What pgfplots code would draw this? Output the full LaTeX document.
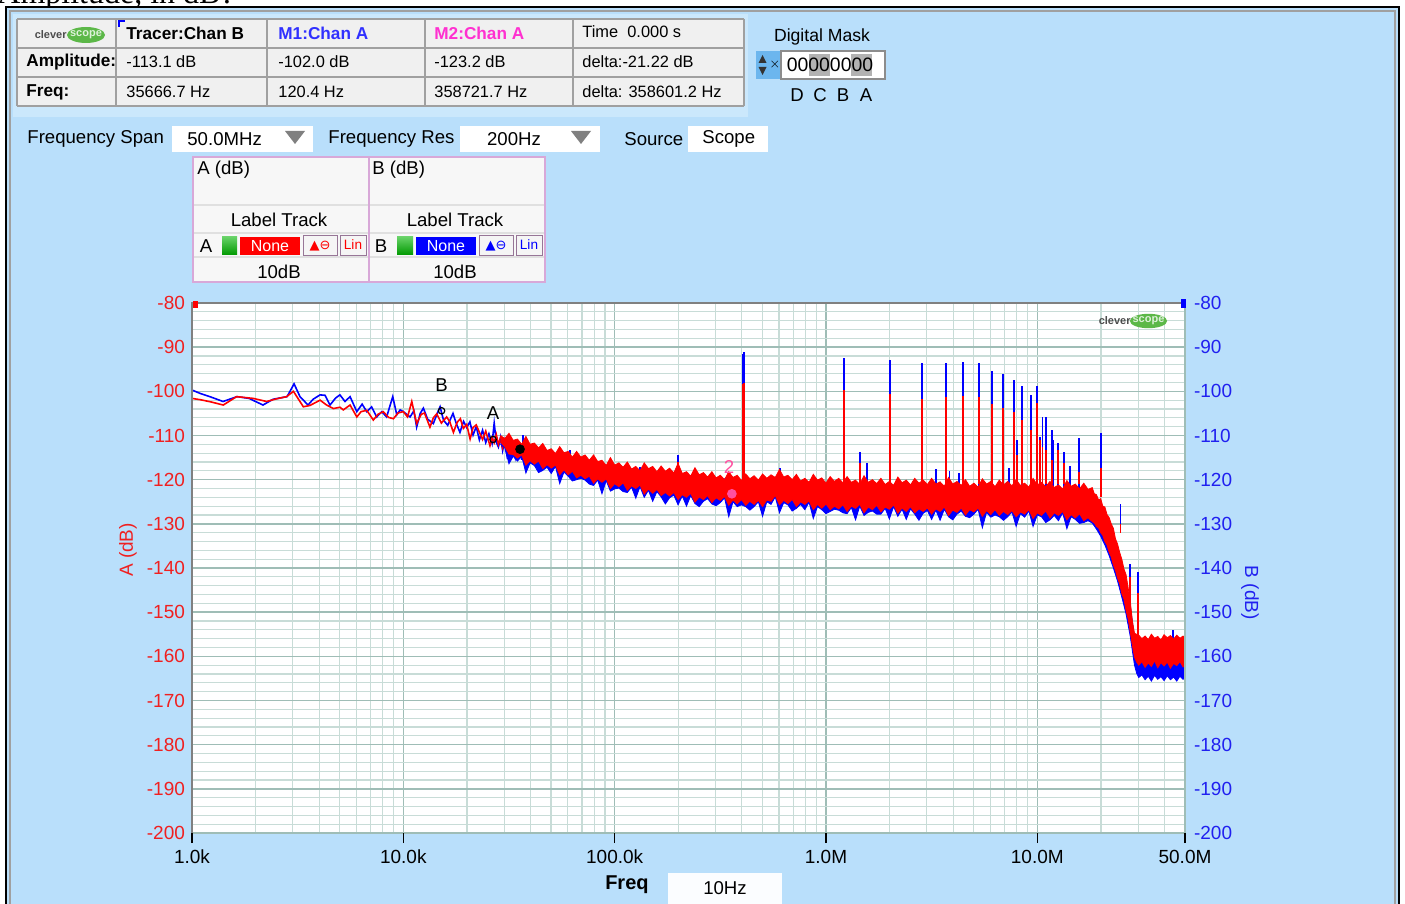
\documentclass[border=0pt]{standalone}
\usepackage{fontspec}
\setmainfont{Liberation Sans}
\newfontfamily\symf{DejaVu Sans}
\newfontfamily\serf{Liberation Serif}
\usepackage{pgfplots}
\pgfplotsset{compat=1.18}
\definecolor{bgblue}{HTML}{B9DFFB}
\definecolor{panelblue}{HTML}{CBE8FC}
\definecolor{cellgray}{HTML}{F0F0F0}
\definecolor{linegray}{HTML}{A0A0A0}
\definecolor{gridmajor}{HTML}{9FBDB6}
\definecolor{gridminor}{HTML}{C8DCD7}
\definecolor{pinkborder}{HTML}{D8A8D8}
\definecolor{axisred}{HTML}{F02020}
\definecolor{axisblue}{HTML}{2020F0}
\definecolor{mOne}{HTML}{3030FF}
\definecolor{mTwo}{HTML}{FF30D0}
\definecolor{mpink}{HTML}{FF4FA0}
\definecolor{logogreen}{HTML}{5CB848}
\definecolor{spinblue}{HTML}{6CB6EE}
\newcommand{\fs}[1]{\fontsize{#1}{#1}\selectfont}
\begin{document}
\begin{tikzpicture}
\useasboundingbox (0,0) rectangle (702.5pt,-452pt);
\begin{scope}[x=0.5pt,y=-0.5pt]
% background and frame
\fill[white] (0,0) rectangle (1405,904);
\begin{scope}
\clip (0,0) rectangle (1405,7);
\node[anchor=base west, inner sep=0pt, font=\serf\fs{16}] at (-3,4) {Amplitude, in dB?};
\end{scope}
\fill[bgblue] (6,7) rectangle (1399,904);
\draw[black, line width=1pt] (6,920) -- (6,7.5) -- (1398.5,7.5) -- (1398.5,920);
\draw[linegray, line width=1pt] (9.5,920) -- (9.5,11) -- (1395,11) -- (1395,920);
% header table panel
\fill[panelblue] (13,14) rectangle (748,117);
\fill[cellgray] (17,19) rectangle (744,106);
\foreach \yy in {19,48,77,106} {\draw[linegray, line width=1pt] (17,\yy) -- (744,\yy);}
\foreach \xx in {17,116,267,425,573,744} {\draw[linegray, line width=1pt] (\xx,19) -- (\xx,106);}
\draw[blue, line width=0.7pt] (119,27) -- (119,21) -- (125,21);
% table logo
\node[anchor=east, inner sep=0pt, font=\bfseries\fs{5.5}, text=black!70] at (67,35) {clever};
\fill[logogreen] (86,35) ellipse (9.5pt and 4pt);
\node[inner sep=0pt, font=\bfseries\fs{5.5}, text=white!80!logogreen] at (86,35) {scope};
% table text
\begin{scope}[every node/.style={anchor=west, inner sep=0pt, font=\fs{8.2}}]
\node[font=\bfseries\fs{8.6}] at (126,33) {Tracer:Chan B};
\node[font=\bfseries\fs{8.6}, text=mOne] at (278,33) {M1:Chan A};
\node[font=\bfseries\fs{8.6}, text=mTwo] at (434,33) {M2:Chan A};
\node at (582,32) {Time\ \ 0.000 s};
\node[font=\bfseries\fs{8.6}] at (26,62) {Amplitude:};
\node at (126,62) {-113.1 dB};
\node at (278,62) {-102.0 dB};
\node at (434,62) {-123.2 dB};
\node at (582,62) {delta:-21.22 dB};
\node[font=\bfseries\fs{8.6}] at (26,92) {Freq:};
\node at (126,92) {35666.7 Hz};
\node at (278,92) {120.4 Hz};
\node at (434,92) {358721.7 Hz};
\node at (582,92) {delta: 358601.2 Hz};
\end{scope}
% digital mask
\node[inner sep=0pt, font=\fs{8.8}] at (822,37) {Digital Mask};
\fill[spinblue] (756,51) rectangle (769,79);
\fill[black!80] (758.5,63) -- (766.5,63) -- (762.5,55) -- cycle;
\fill[black!80] (758.5,67) -- (766.5,67) -- (762.5,75) -- cycle;
\fill[spinblue] (769,51) rectangle (781,79);
\node[inner sep=0pt, font=\fs{6}] at (775,65) {$\times$};
\fill[white] (781,51) rectangle (885,79);
\draw[black!45, line width=0.6pt] (781,51) rectangle (885,79);
\fill[black!30] (809,54) rectangle (830,76);
\fill[black!30] (851,54) rectangle (872,76);
\node[inner sep=0pt, font=\fs{9.7}] at (830,65) {00000000};
\foreach \xx/\tt in {797/D,820/C,843/B,866/A} {\node[inner sep=0pt, font=\fs{9.3}] at (\xx,95) {\tt};}
% controls row
\begin{scope}[every node/.style={inner sep=0pt, font=\fs{9.3}}]
\node[anchor=west] at (27,139) {Frequency Span};
\fill[white] (172,126) rectangle (313,152);
\node[anchor=west] at (187,139) {50.0MHz};
\fill[black!50] (285,131) -- (305,131) -- (295,144) -- cycle;
\node[anchor=west] at (328,139) {Frequency Res};
\fill[white] (460,126) rectangle (600,152);
\node at (514,139) {200Hz};
\fill[black!50] (571,131) -- (591,131) -- (581,144) -- cycle;
\node[anchor=west] at (624,139) {Source};
\fill[white] (688,126) rectangle (768,152);
\node[anchor=west] at (702,139) {Scope};
\end{scope}
% label track panel
\fill[white!97!black] (193,157) rectangle (545,282);
\draw[black!12, line width=0.6pt] (193,205) -- (545,205);
\draw[black!12, line width=0.6pt] (193,233) -- (545,233);
\draw[black!12, line width=0.6pt] (193,257) -- (545,257);
\draw[pinkborder, line width=0.8pt] (193,157) rectangle (545,282);
\draw[pinkborder, line width=0.8pt] (369,157) -- (369,282);
\begin{scope}[every node/.style={inner sep=0pt, font=\fs{9.3}}]
\node[anchor=west] at (197,170) {A (dB)};
\node[anchor=west] at (372,170) {B (dB)};
\node at (279,220) {Label Track};
\node at (455,220) {Label Track};
\node at (279,272) {10dB};
\node at (455,272) {10dB};
\node at (206,246) {A};
\node at (381,246) {B};
\end{scope}
\shade[top color=green!70!black!60, bottom color=green!60!black] (222,237) rectangle (237,255);
\shade[top color=green!70!black!60, bottom color=green!60!black] (397,237) rectangle (413,255);
\fill[red] (240,237) rectangle (300,255);
\node[inner sep=0pt, font=\fs{8}, text=white] at (270,246) {None};
\fill[blue] (416,237) rectangle (476,255);
\node[inner sep=0pt, font=\fs{8}, text=white] at (446,246) {None};
\foreach \xa/\xb in {303/337,340/366,479/513,516/542} {\fill[white!96!black] (\xa,236) rectangle (\xb,256); \draw[pinkborder!70!black, line width=0.5pt] (\xa,236) rectangle (\xb,256);}
\node[inner sep=0pt, font=\symf\fs{6.5}, text=red] at (320,246) {▲⊖};
\node[inner sep=0pt, font=\fs{6.8}, text=red] at (353,245) {Lin};
\node[inner sep=0pt, font=\symf\fs{6.5}, text=blue] at (496,246) {▲⊖};
\node[inner sep=0pt, font=\fs{6.8}, text=blue] at (529,245) {Lin};
% freq box under axis
\fill[white!94!bgblue] (668,873) rectangle (782,910);
\node[inner sep=0pt, font=\fs{9.3}] at (725,888) {10Hz};
\end{scope}

\begin{axis}[
  at={(96pt,-416.5pt)}, anchor=south west,
  scale only axis, width=496.5pt, height=265pt,
  xmin=3, xmax=7.69897, ymin=-200, ymax=-80,
  axis background/.style={fill=white},
  axis line style={draw=none},
  xtick={3,4,5,6,7,7.69897},
  xticklabels={1.0k,10.0k,100.0k,1.0M,10.0M,50.0M},
  minor xtick={3.30103,3.47712,3.60206,3.69897,3.77815,3.84510,3.90309,3.95424,
    4.30103,4.47712,4.60206,4.69897,4.77815,4.84510,4.90309,4.95424,
    5.30103,5.47712,5.60206,5.69897,5.77815,5.84510,5.90309,5.95424,
    6.30103,6.47712,6.60206,6.69897,6.77815,6.84510,6.90309,6.95424,
    7.30103,7.47712,7.60206},
  ytick={-200,-190,-180,-170,-160,-150,-140,-130,-120,-110,-100,-90,-80},
  yticklabels={-200,-190,-180,-170,-160,-150,-140,-130,-120,-110,-100,-90,-80},
  minor y tick num=4,
  grid=both,
  major grid style={draw=gridmajor, line width=0.7pt},
  minor grid style={draw=gridminor, line width=0.6pt},
  tick align=outside, xtick pos=left,
  ytick style={draw=none},
  xtick style={draw=black, line width=0.6pt},
  major tick length=5pt, minor tick length=0pt,
  xticklabel style={font=\fs{9.5}},
  yticklabel style={font=\fs{9.5}, text=axisred, xshift=5pt},
  xlabel={Freq},
  xlabel style={at={(axis description cs:0.438,-0.098)}, anchor=center, font=\bfseries\fs{10}},
  ylabel={A (dB)},
  ylabel style={at={(axis description cs:-0.0645,0.534)}, anchor=center, font=\fs{9.5}, text=axisred},
]
% Chan B, low-frequency trace (x = log10 of frequency in Hz)
\addplot[blue, line width=0.8pt] coordinates {
(3.000,-99.7)(3.040,-100.5)(3.090,-101.3)(3.147,-102.3)(3.213,-101.2)(3.270,-101.6)(3.336,-103.1)(3.383,-101.8)
(3.450,-101.2)(3.483,-98.3)(3.511,-101.2)(3.549,-103.1)(3.573,-101.8)(3.606,-100.8)(3.630,-100.9)(3.653,-103.1)
(3.680,-101.5)(3.700,-100.8)(3.724,-102.3)(3.748,-101.2)(3.780,-104.6)(3.805,-102.9)(3.827,-104.6)(3.850,-103.5)
(3.874,-105.8)(3.898,-104.6)(3.921,-105.8)(3.950,-101.2)(3.969,-105.3)(3.985,-104.2)(4.000,-104.6)(4.032,-105.8)
(4.050,-104.4)(4.063,-108.1)(4.080,-105.0)(4.095,-103.8)(4.115,-106.3)(4.142,-107.3)(4.158,-105.3)(4.174,-103.5)
(4.190,-106.5)(4.210,-107.7)(4.235,-105.0)(4.250,-107.2)(4.268,-109.3)(4.285,-106.8)(4.300,-108.2)(4.315,-106.9)
(4.330,-109.9)(4.345,-108.0)(4.360,-111.0)(4.375,-108.8)(4.390,-111.6)(4.405,-109.6)(4.420,-111.8)(4.430,-107.2)
(4.440,-111.5)(4.450,-112.6)(4.460,-110.4)(4.470,-113.4)(4.480,-111.2)(4.490,-114.3)(4.500,-111.8)(4.510,-114.6)
(4.520,-112.3)(4.530,-115.0)(4.540,-112.8)(4.552,-113.1)(4.560,-115.5)};
% Chan A, low-frequency trace
\addplot[red, line width=0.8pt] coordinates {
(3.000,-101.6)(3.040,-101.9)(3.090,-102.4)(3.148,-103.1)(3.211,-101.2)(3.250,-101.4)(3.290,-101.6)(3.353,-102.3)
(3.400,-101.7)(3.448,-101.2)(3.480,-100.0)(3.527,-103.5)(3.558,-103.2)(3.606,-102.0)(3.637,-103.1)(3.669,-103.9)
(3.700,-103.6)(3.716,-104.2)(3.748,-103.1)(3.780,-105.8)(3.800,-104.6)(3.827,-104.3)(3.858,-106.5)(3.880,-105.2)
(3.905,-104.6)(3.930,-105.9)(3.953,-106.2)(3.975,-104.9)(4.000,-104.6)(4.020,-105.8)(4.040,-102.3)(4.063,-107.3)
(4.085,-105.2)(4.100,-104.9)(4.126,-108.1)(4.142,-106.0)(4.158,-105.1)(4.180,-107.2)(4.205,-105.8)(4.220,-106.9)
(4.237,-109.3)(4.255,-107.0)(4.270,-106.2)(4.284,-108.4)(4.300,-107.5)(4.316,-110.8)(4.330,-108.2)(4.345,-107.6)
(4.363,-109.6)(4.375,-110.9)(4.390,-109.0)(4.410,-112.3)(4.420,-110.5)(4.430,-111.6)(4.440,-109.8)(4.450,-112.0)
(4.460,-110.6)(4.470,-112.8)(4.480,-111.5)(4.490,-113.0)(4.500,-111.0)(4.510,-113.5)(4.520,-111.8)(4.530,-113.2)
(4.540,-112.0)(4.550,-114.1)(4.560,-112.5)};
% Chan B noise band (upper envelope, then lower envelope)
\addplot[fill=blue, draw=blue, line width=0.4pt] coordinates {
(4.46,-110.8)(4.50,-111.2)(4.60,-112.6)(4.70,-113.8)(4.80,-115.0)(4.90,-116.0)(5.00,-117.2)(5.10,-117.8)(5.20,-118.4)
(5.30,-118.8)(5.40,-119.3)(5.50,-119.7)(5.60,-120.3)(5.70,-120.3)(5.76,-119.8)(5.80,-120.1)(5.90,-120.5)(6.00,-120.9)
(6.50,-121.4)(7.00,-121.7)(7.20,-122.3)(7.26,-122.9)(7.30,-125.2)(7.35,-131)(7.40,-139)(7.44,-148.5)(7.46,-155.8)
(7.50,-156.8)(7.699,-156.8)
(7.699,-164.8)(7.69,-165.2)(7.675,-164.5)(7.66,-165.6)(7.645,-164.7)(7.63,-165.3)(7.615,-164.4)(7.60,-165.5)(7.585,-164.6)
(7.57,-165.2)(7.555,-164.3)(7.54,-165.6)(7.525,-164.5)(7.51,-165.3)(7.495,-164.2)(7.48,-164.8)(7.47,-163.8)(7.46,-162.0)
(7.45,-158.8)(7.44,-155.5)(7.42,-150.4)(7.40,-146.6)(7.38,-143.0)(7.36,-140.0)(7.34,-137.2)(7.32,-134.8)(7.30,-132.8)
(7.28,-131.2)(7.26,-129.8)(7.24,-129.3)(7.22,-129.7)(7.20,-129.9)(7.18,-129.0)(7.16,-128.4)(7.14,-131.1)(7.12,-127.5)
(7.10,-129.3)(7.08,-128.1)(7.06,-129.1)(7.04,-129.7)(7.02,-128.4)(7.00,-128.0)(6.98,-130.6)(6.96,-127.1)(6.94,-128.5)
(6.92,-127.7)(6.90,-130.6)(6.88,-127.3)(6.86,-128.4)(6.84,-129.2)(6.82,-128.4)(6.80,-128.0)(6.78,-128.5)(6.76,-127.4)
(6.74,-130.9)(6.72,-126.7)(6.70,-127.8)(6.68,-128.6)(6.66,-128.3)(6.64,-127.1)(6.62,-127.8)(6.60,-129.1)(6.58,-128.4)
(6.56,-126.7)(6.54,-129.2)(6.52,-126.9)(6.50,-129.0)(6.48,-127.0)(6.46,-127.6)(6.44,-129.2)(6.42,-127.8)(6.40,-126.6)
(6.38,-129.0)(6.36,-126.7)(6.34,-128.3)(6.32,-126.1)(6.30,-128.9)(6.28,-126.5)(6.26,-127.8)(6.24,-127.8)(6.22,-127.1)
(6.20,-127.4)(6.18,-128.1)(6.16,-126.0)(6.14,-129.1)(6.12,-126.3)(6.10,-127.7)(6.08,-127.5)(6.06,-126.9)(6.04,-126.7)
(6.02,-127.2)(6.00,-127.7)(5.98,-126.8)(5.96,-126.1)(5.94,-128.8)(5.92,-125.1)(5.90,-126.8)(5.88,-125.6)(5.86,-126.5)
(5.84,-127.1)(5.82,-125.7)(5.80,-125.2)(5.78,-127.5)(5.76,-123.9)(5.74,-125.6)(5.72,-125.0)(5.70,-128.3)(5.68,-125.0)
(5.66,-126.1)(5.64,-126.9)(5.62,-126.1)(5.60,-125.7)(5.58,-126.1)(5.56,-125.0)(5.54,-128.4)(5.52,-124.1)(5.50,-125.2)
(5.48,-125.9)(5.46,-125.5)(5.44,-124.3)(5.42,-124.9)(5.40,-126.1)(5.38,-125.4)(5.36,-123.6)(5.34,-126.0)(5.32,-123.7)
(5.30,-125.7)(5.28,-123.5)(5.26,-124.1)(5.24,-125.5)(5.22,-123.9)(5.20,-122.7)(5.18,-124.9)(5.16,-122.4)(5.14,-124.0)
(5.12,-121.6)(5.10,-124.2)(5.08,-121.7)(5.06,-122.9)(5.04,-122.7)(5.02,-121.9)(5.00,-122.1)(4.98,-122.6)(4.96,-120.2)
(4.94,-123.2)(4.92,-120.1)(4.90,-121.3)(4.88,-121.0)(4.86,-120.1)(4.84,-119.7)(4.82,-120.0)(4.80,-120.3)(4.78,-119.2)
(4.76,-118.3)(4.74,-120.9)(4.72,-117.0)(4.70,-118.6)(4.68,-117.2)(4.66,-117.9)(4.64,-118.4)(4.62,-116.8)(4.60,-116.2)
(4.58,-118.5)(4.56,-114.7)(4.54,-115.8)(4.52,-114.7)(4.50,-116.4)(4.48,-112.8)(4.46,-112.0)};
% Chan B spurs
\addplot[blue, line width=0.9pt, unbounded coords=jump] coordinates {
(5.608,-122)(5.608,-91.6)(5.608,nan)(5.612,-122)(5.612,-91.0)(5.612,nan)
(6.086,-122)(6.086,-92.5)(6.086,nan)(6.161,-122)(6.161,-113.7)(6.161,nan)
(6.194,-122)(6.194,-116.3)(6.194,nan)(6.303,-122)(6.303,-92.9)(6.303,nan)
(6.455,-122)(6.455,-93.6)(6.455,nan)(6.567,-122)(6.567,-93.6)(6.567,nan)
(6.649,-122)(6.649,-93.3)(6.649,nan)(6.725,-122)(6.725,-93.6)(6.725,nan)
(6.786,-122)(6.786,-95.3)(6.786,nan)(6.838,-122)(6.838,-96.1)(6.838,nan)
(6.888,-122)(6.888,-97.4)(6.888,nan)(6.903,-122)(6.903,-111.0)(6.903,nan)
(6.928,-122)(6.928,-98.9)(6.928,nan)(6.969,-122)(6.969,-100.8)(6.969,nan)
(6.997,-122)(6.997,-98.9)(6.997,nan)(7.012,-122)(7.012,-110.3)(7.012,nan)
(7.025,-122)(7.025,-105.7)(7.025,nan)(7.040,-122)(7.040,-105.7)(7.040,nan)
(7.071,-122)(7.071,-108.8)(7.071,nan)(7.077,-122)(7.077,-111.0)(7.077,nan)
(7.098,-122)(7.098,-111.7)(7.098,nan)(7.127,-122)(7.127,-113.7)(7.127,nan)
(7.155,-122)(7.155,-117.0)(7.155,nan)(7.198,-122)(7.198,-110.6)(7.198,nan)
(7.300,-124)(7.300,-109.5)(7.300,nan)(7.394,-132)(7.394,-125.5)(7.394,nan)
(7.439,-148)(7.439,-139.0)(7.439,nan)(7.478,-158)(7.478,-140.8)(7.478,nan)
(7.641,-158)(7.641,-154.0)(7.641,nan)
(5.297,-118)(5.297,-115.2)(5.297,nan)(5.300,-118)(5.300,-114.4)(5.300,nan)
(5.781,-120)(5.781,-117.4)(5.781,nan)(4.567,-114)(4.567,-109.9)(4.567,nan)
(4.790,-116)(4.790,-113.3)(4.790,nan)(5.120,-119)(5.120,-117.2)(5.120,nan)
(6.520,-122)(6.520,-117.5)(6.520,nan)(6.585,-122)(6.585,-118.0)(6.585,nan)
(6.630,-122)(6.630,-118.4)(6.630,nan)(6.866,-122)(6.866,-117.3)(6.866,nan)};
% Chan A noise band (upper envelope, then lower envelope)
\addplot[fill=red, draw=red, line width=0.4pt] coordinates {
(4.46,-110.0)(4.48,-110.7)(4.50,-109.5)(4.52,-111.1)(4.54,-110.8)(4.56,-112.0)(4.58,-110.2)(4.60,-112.0)(4.62,-111.7)
(4.64,-112.8)(4.66,-111.8)(4.68,-113.4)(4.70,-113.0)(4.72,-114.1)(4.74,-112.5)(4.76,-113.9)(4.78,-113.6)(4.80,-114.9)
(4.82,-113.6)(4.84,-114.9)(4.86,-114.4)(4.88,-115.6)(4.90,-114.4)(4.92,-115.9)(4.94,-115.6)(4.96,-116.8)(4.98,-115.0)
(5.00,-116.7)(5.02,-116.2)(5.04,-117.2)(5.06,-116.0)(5.08,-117.6)(5.10,-117.0)(5.12,-118.0)(5.14,-116.2)(5.16,-117.5)
(5.18,-117.0)(5.20,-118.2)(5.22,-116.9)(5.24,-118.1)(5.26,-117.4)(5.28,-118.5)(5.30,-116.3)(5.32,-118.6)(5.34,-118.2)
(5.36,-119.2)(5.38,-117.3)(5.40,-118.9)(5.42,-118.4)(5.44,-119.4)(5.46,-118.2)(5.48,-119.6)(5.50,-119.0)(5.52,-120.0)
(5.54,-118.2)(5.56,-119.5)(5.58,-119.0)(5.60,-120.2)(5.62,-118.7)(5.64,-119.8)(5.66,-119.1)(5.68,-120.1)(5.70,-118.7)
(5.72,-119.7)(5.74,-118.9)(5.76,-119.5)(5.78,-117.7)(5.80,-119.4)(5.82,-119.0)(5.84,-120.0)(5.86,-118.8)(5.88,-120.3)
(5.90,-119.7)(5.92,-120.6)(5.94,-118.8)(5.96,-120.1)(5.98,-119.6)(6.00,-120.8)(6.02,-119.3)(6.04,-120.4)(6.06,-119.7)
(6.08,-120.7)(6.10,-119.3)(6.12,-120.6)(6.14,-120.1)(6.16,-121.1)(6.18,-119.1)(6.20,-120.6)(6.22,-120.0)(6.24,-120.9)
(6.26,-119.7)(6.28,-121.1)(6.30,-120.4)(6.32,-121.3)(6.34,-119.4)(6.36,-120.7)(6.38,-120.1)(6.40,-121.2)(6.42,-119.7)
(6.44,-120.8)(6.46,-120.1)(6.48,-121.1)(6.50,-119.7)(6.52,-121.0)(6.54,-120.5)(6.56,-121.5)(6.58,-119.5)(6.60,-121.0)
(6.62,-120.4)(6.64,-121.3)(6.66,-120.0)(6.68,-121.5)(6.70,-120.8)(6.72,-121.7)(6.74,-119.8)(6.76,-121.0)(6.78,-120.4)
(6.80,-121.6)(6.82,-120.1)(6.84,-121.2)(6.86,-120.4)(6.88,-121.4)(6.90,-120.0)(6.92,-121.3)(6.94,-120.8)(6.96,-121.7)
(6.98,-119.7)(7.00,-121.2)(7.02,-120.6)(7.04,-121.6)(7.06,-120.4)(7.08,-121.8)(7.10,-121.2)(7.12,-122.1)(7.14,-120.2)
(7.16,-121.5)(7.18,-121.0)(7.20,-122.1)(7.22,-120.8)(7.24,-122.2)(7.26,-121.8)(7.27,-123.2)(7.28,-123.4)(7.29,-124.6)
(7.30,-124.3)(7.31,-126.0)(7.32,-126.2)(7.33,-127.9)(7.34,-128.6)(7.35,-130.0)(7.36,-131.0)(7.37,-133.4)(7.38,-134.6)
(7.39,-136.5)(7.40,-138.0)(7.41,-140.2)(7.42,-141.5)(7.43,-144.5)(7.44,-147.5)(7.45,-152.0)(7.46,-154.8)(7.47,-155.0)
(7.48,-155.2)(7.495,-156.0)(7.51,-155.4)(7.525,-156.2)(7.54,-155.0)(7.555,-155.9)(7.57,-155.5)(7.585,-156.3)(7.60,-155.1)
(7.615,-155.8)(7.63,-155.3)(7.645,-156.1)(7.66,-155.2)(7.675,-155.9)(7.69,-155.4)(7.699,-155.8)
(7.699,-161.8)(7.69,-162.4)(7.675,-161.2)(7.66,-162.1)(7.645,-161.6)(7.63,-162.7)(7.615,-161.3)(7.60,-162.2)(7.585,-161.4)
(7.57,-162.6)(7.555,-161.0)(7.54,-162.3)(7.525,-161.5)(7.51,-162.5)(7.495,-161.2)(7.48,-162.0)(7.47,-161.3)(7.46,-160.2)
(7.45,-157.5)(7.44,-154.5)(7.43,-151.5)(7.42,-149.6)(7.41,-147.0)(7.40,-145.8)(7.39,-143.6)(7.38,-142.3)(7.37,-140.5)
(7.36,-139.3)(7.35,-137.5)(7.34,-136.4)(7.33,-134.8)(7.32,-134.0)(7.31,-132.6)(7.30,-132.0)(7.29,-130.9)(7.28,-130.6)
(7.27,-129.8)(7.26,-129.5)(7.24,-128.6)(7.22,-129.3)(7.20,-127.7)(7.18,-128.7)(7.16,-127.9)(7.14,-129.1)(7.12,-127.2)
(7.10,-128.1)(7.08,-127.5)(7.06,-128.7)(7.04,-127.1)(7.02,-128.1)(7.00,-127.5)(6.98,-128.8)(6.96,-126.8)(6.94,-127.8)
(6.92,-127.3)(6.90,-128.4)(6.88,-127.0)(6.86,-127.9)(6.84,-127.2)(6.82,-128.1)(6.80,-126.8)(6.78,-127.9)(6.76,-127.0)
(6.74,-128.3)(6.72,-126.4)(6.70,-127.3)(6.68,-126.8)(6.66,-128.0)(6.64,-126.4)(6.62,-127.4)(6.60,-126.9)(6.58,-128.1)
(6.56,-126.2)(6.54,-127.2)(6.52,-126.6)(6.50,-127.8)(6.48,-126.4)(6.46,-127.2)(6.44,-126.6)(6.42,-127.5)(6.40,-126.1)
(6.38,-127.2)(6.36,-126.4)(6.34,-127.6)(6.32,-125.7)(6.30,-126.7)(6.28,-126.2)(6.26,-127.3)(6.24,-125.8)(6.22,-126.8)
(6.20,-126.2)(6.18,-127.5)(6.16,-125.6)(6.14,-126.5)(6.12,-126.0)(6.10,-127.2)(6.08,-125.7)(6.06,-126.6)(6.04,-126.0)
(6.02,-126.8)(6.00,-125.5)(5.98,-126.5)(5.96,-125.6)(5.94,-126.8)(5.92,-124.8)(5.90,-125.6)(5.88,-125.0)(5.86,-126.1)
(5.84,-124.5)(5.82,-125.4)(5.80,-124.7)(5.78,-125.7)(5.76,-123.6)(5.74,-124.9)(5.72,-124.6)(5.70,-126.1)(5.68,-124.7)
(5.66,-125.6)(5.64,-124.9)(5.62,-125.8)(5.60,-124.5)(5.58,-125.5)(5.56,-124.6)(5.54,-125.8)(5.52,-123.8)(5.50,-124.7)
(5.48,-124.1)(5.46,-125.2)(5.44,-123.6)(5.42,-124.5)(5.40,-123.9)(5.38,-125.1)(5.36,-123.1)(5.34,-124.0)(5.32,-123.4)
(5.30,-124.5)(5.28,-122.9)(5.26,-123.7)(5.24,-122.9)(5.22,-123.6)(5.20,-122.2)(5.18,-123.1)(5.16,-122.1)(5.14,-123.3)
(5.12,-121.2)(5.10,-122.0)(5.08,-121.4)(5.06,-122.4)(5.04,-120.7)(5.02,-121.6)(5.00,-120.9)(4.98,-122.0)(4.96,-119.8)
(4.94,-120.6)(4.92,-119.8)(4.90,-120.8)(4.88,-119.2)(4.86,-119.8)(4.84,-119.0)(4.82,-119.6)(4.80,-118.1)(4.78,-118.9)
(4.76,-117.8)(4.74,-118.9)(4.72,-116.7)(4.70,-117.4)(4.68,-116.6)(4.66,-117.5)(4.64,-115.8)(4.62,-116.5)(4.60,-115.7)
(4.58,-116.7)(4.56,-114.4)(4.54,-115.1)(4.52,-114.3)(4.50,-114.2)(4.48,-112.5)(4.46,-111.5)};
% Chan A spurs
\addplot[red, line width=0.9pt, unbounded coords=jump] coordinates {
(5.608,-121)(5.608,-98.3)(5.608,nan)(5.612,-121)(5.612,-98.1)(5.612,nan)(6.086,-121)(6.086,-99.7)(6.086,nan)
(6.161,-121)(6.161,-116.3)(6.161,nan)(6.303,-121)(6.303,-100.6)(6.303,nan)
(6.455,-121)(6.455,-101.8)(6.455,nan)(6.567,-121)(6.567,-101.3)(6.567,nan)
(6.649,-121)(6.649,-101.0)(6.649,nan)(6.725,-121)(6.725,-101.3)(6.725,nan)
(6.786,-121)(6.786,-102.9)(6.786,nan)(6.838,-121)(6.838,-103.7)(6.838,nan)
(6.888,-121)(6.888,-104.6)(6.888,nan)(6.903,-121)(6.903,-114.4)(6.903,nan)
(6.928,-121)(6.928,-106.5)(6.928,nan)(6.969,-121)(6.969,-108.8)(6.969,nan)
(6.997,-121)(6.997,-102.7)(6.997,nan)(7.012,-121)(7.012,-111.0)(7.012,nan)
(7.025,-121)(7.025,-112.5)(7.025,nan)(7.040,-121)(7.040,-113.3)(7.040,nan)
(7.071,-121)(7.071,-115.5)(7.071,nan)(7.098,-121)(7.098,-113.3)(7.098,nan)
(7.127,-121)(7.127,-116.3)(7.127,nan)(7.198,-121)(7.198,-118.2)(7.198,nan)
(7.300,-124)(7.300,-117.4)(7.300,nan)(7.394,-132)(7.394,-130.0)(7.394,nan)
(7.439,-148)(7.439,-142.0)(7.439,nan)(7.478,-158)(7.478,-145.7)(7.478,nan)
(5.300,-118)(5.300,-116.0)(5.300,nan)};
% markers
\addplot[only marks, mark=*, mark size=2.2pt, color=mpink] coordinates {(5.5547,-123.2)};
\addplot[only marks, mark=o, mark size=1.6pt, black, line width=0.6pt] coordinates {(4.181,-104.4)(4.4245,-110.9)};
\addplot[only marks, mark=*, mark size=2.2pt, black] coordinates {(4.5523,-113.1)};
\node[font=\fs{9.3}] at (axis cs:4.181,-98.6) {B};
\node[font=\fs{9.3}] at (axis cs:4.4245,-104.9) {A};
\node[font=\fs{9.3}, text=mpink] at (axis cs:5.541,-117.1) {2};
\end{axis}

\begin{axis}[
  at={(96pt,-416.5pt)}, anchor=south west,
  scale only axis, width=496.5pt, height=265pt,
  xmin=3, xmax=7.69897, ymin=-200, ymax=-80,
  hide x axis, axis y line*=right,
  y axis line style={draw=none},
  ytick={-200,-190,-180,-170,-160,-150,-140,-130,-120,-110,-100,-90,-80},
  yticklabels={-200,-190,-180,-170,-160,-150,-140,-130,-120,-110,-100,-90,-80},
  ytick style={draw=none}, major tick length=0pt, minor tick length=0pt,
  yticklabel style={font=\fs{9.5}, text=axisblue, xshift=1pt},
  ylabel={B (dB)},
  ylabel style={at={(axis description cs:1.0655,0.453)}, anchor=center, rotate=180, font=\fs{9.5}, text=axisblue},
]
\addplot[draw=none] coordinates {(3,-200)};
\end{axis}

\begin{scope}[x=0.5pt,y=-0.5pt]
\draw[black!50, line width=1pt] (192,833) -- (192,303) -- (1185,303);
\draw[gridmajor, line width=0.7pt] (1185,303) -- (1185,833);
\fill[red] (193,301) rectangle (198,308);
\fill[blue] (1181,299) rectangle (1186,308);
\node[anchor=east, inner sep=0pt, font=\bfseries\fs{5.5}, text=black!70] at (1131,321) {clever};
\fill[logogreen] (1148.5,321) ellipse (9.3pt and 3.6pt);
\node[inner sep=0pt, font=\bfseries\fs{5.5}, text=white!80!logogreen] at (1148.5,321) {scope};
\end{scope}
\end{tikzpicture}
\end{document}
